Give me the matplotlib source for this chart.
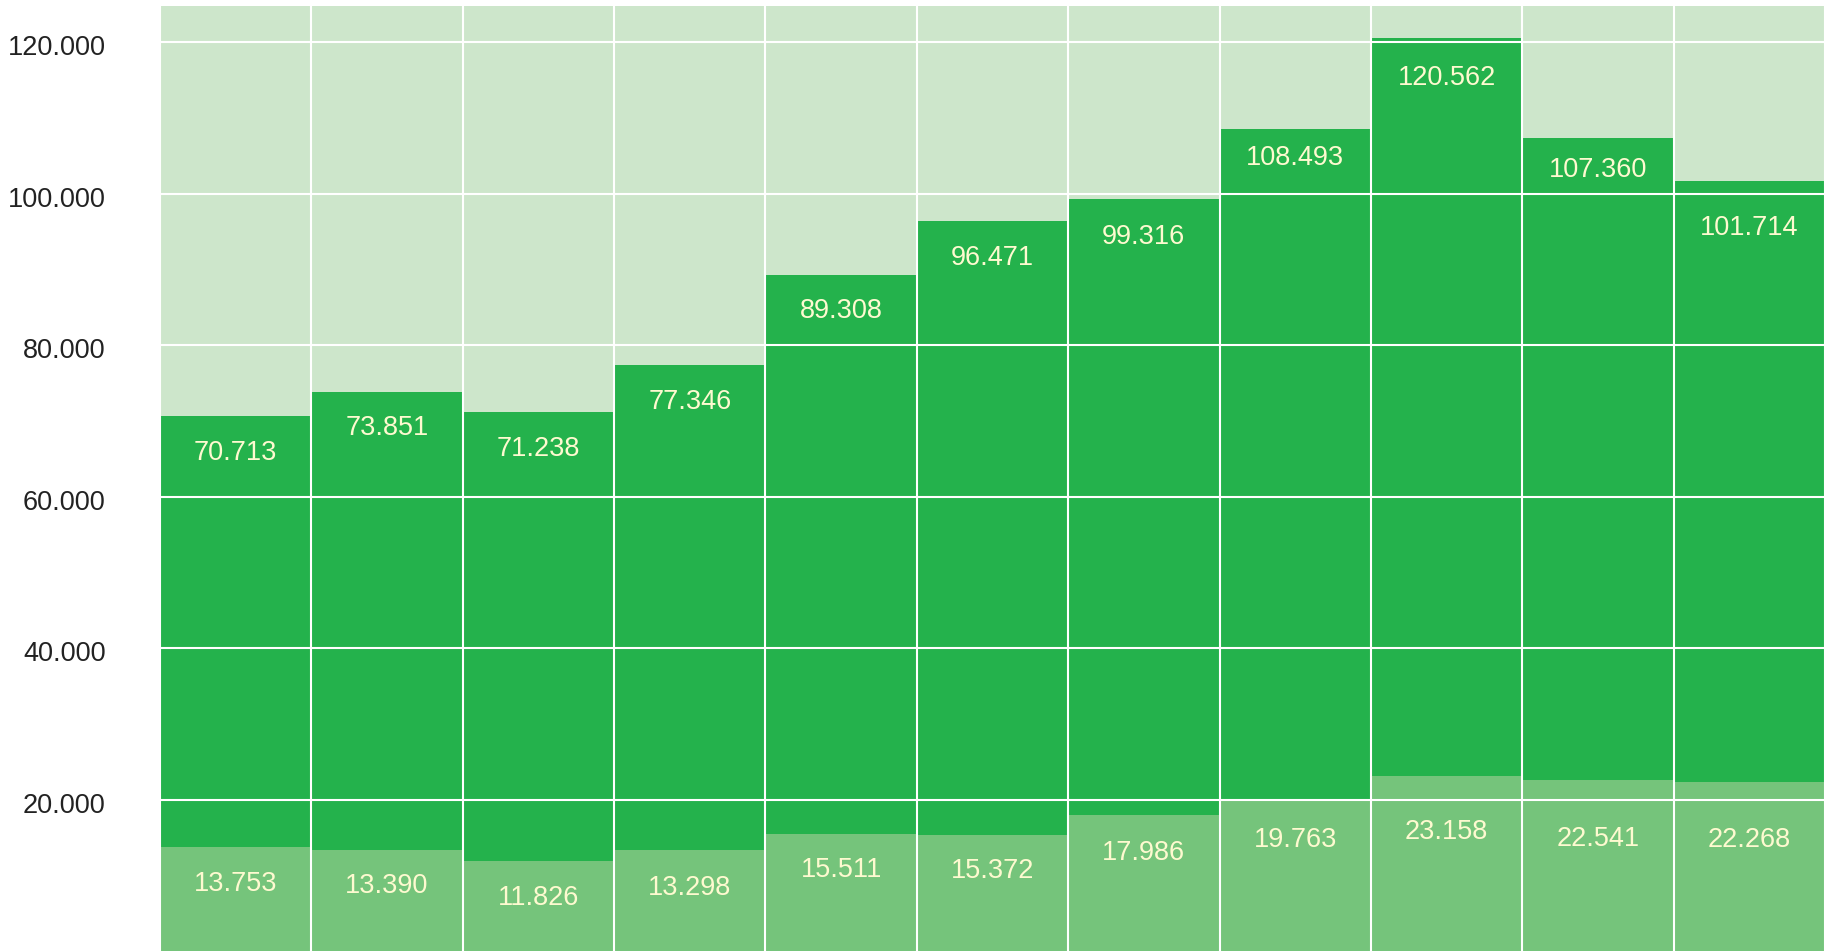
import matplotlib
matplotlib.use("Agg")
import matplotlib.pyplot as plt
import matplotlib.transforms as mtransforms
import numpy as np

# Data
categories = list(range(11))
totals = [70713, 73851, 71238, 77346, 89308, 96471, 99316, 108493, 120562, 107360, 101714]
bottom_part = [13753, 13390, 11826, 13298, 15511, 15372, 17986, 19763, 23158, 22541, 22268]
y_ticks = [20000, 40000, 60000, 80000, 100000, 120000]

# Label placement (pixels below segment top to text centre)
total_label_drop = [35, 34, 35, 34, 34, 35, 35, 26, 37, 29, 44]
bottom_label_drop = [34, 34, 34, 35, 34, 34, 35, 36, 54, 56, 55]

def fmt(v):
    return f"{v:,}".replace(",", ".")

plt.rcParams['font.family'] = ['Liberation Sans', 'DejaVu Sans']

DPI = 100
FS = 19.5
fig = plt.figure(figsize=(18.29, 9.51), dpi=DPI)
ax = fig.add_axes([160/1829, 0.0, (1825-160)/1829, (951-6)/951])
ax.set_facecolor('#cde6cb')

x = np.arange(len(categories))
ax.bar(x, totals, width=1.0, color='#24b24c', zorder=1, linewidth=0)
ax.bar(x, bottom_part, width=1.0, color='#75c47b', zorder=2, linewidth=0)

ax.set_xlim(-0.5, len(categories) - 0.5)
ax.set_ylim(0, 124800)

ax.set_yticks(y_ticks)
ax.set_yticklabels([fmt(t) for t in y_ticks], fontsize=FS, color='#222222')
ax.set_xticks([])
ax.set_xticks(np.arange(len(categories) + 1) - 0.5, minor=True)
ax.tick_params(axis='both', which='both', length=0)
ax.tick_params(axis='y', pad=39)
ax.tick_params(axis='x', which='minor', labelbottom=False)

shift = mtransforms.ScaledTranslation(0, -3/DPI, fig.dpi_scale_trans)
for lbl in ax.get_yticklabels():
    lbl.set_transform(lbl.get_transform() + shift)

ax.grid(axis='y', which='major', color='white', linewidth=1.5, zorder=3)
ax.grid(axis='x', which='minor', color='white', linewidth=1.5, zorder=3)
ax.set_axisbelow(False)

for s in ax.spines.values():
    s.set_visible(False)

cap_half = 0.716 * FS * DPI / 72 / 2  # half digit height in px
txt_color = '#fefad0'
for xi, t, b, dt, db in zip(x, totals, bottom_part, total_label_drop, bottom_label_drop):
    ax.annotate(fmt(t), (xi, t), xytext=(0, -(dt + cap_half) * 72 / DPI),
                textcoords='offset points', ha='center', va='baseline',
                fontsize=FS, color=txt_color, zorder=5)
    ax.annotate(fmt(b), (xi, b), xytext=(0, -(db + cap_half) * 72 / DPI),
                textcoords='offset points', ha='center', va='baseline',
                fontsize=FS, color=txt_color, zorder=5)

fig.savefig('out.png', dpi=DPI)
